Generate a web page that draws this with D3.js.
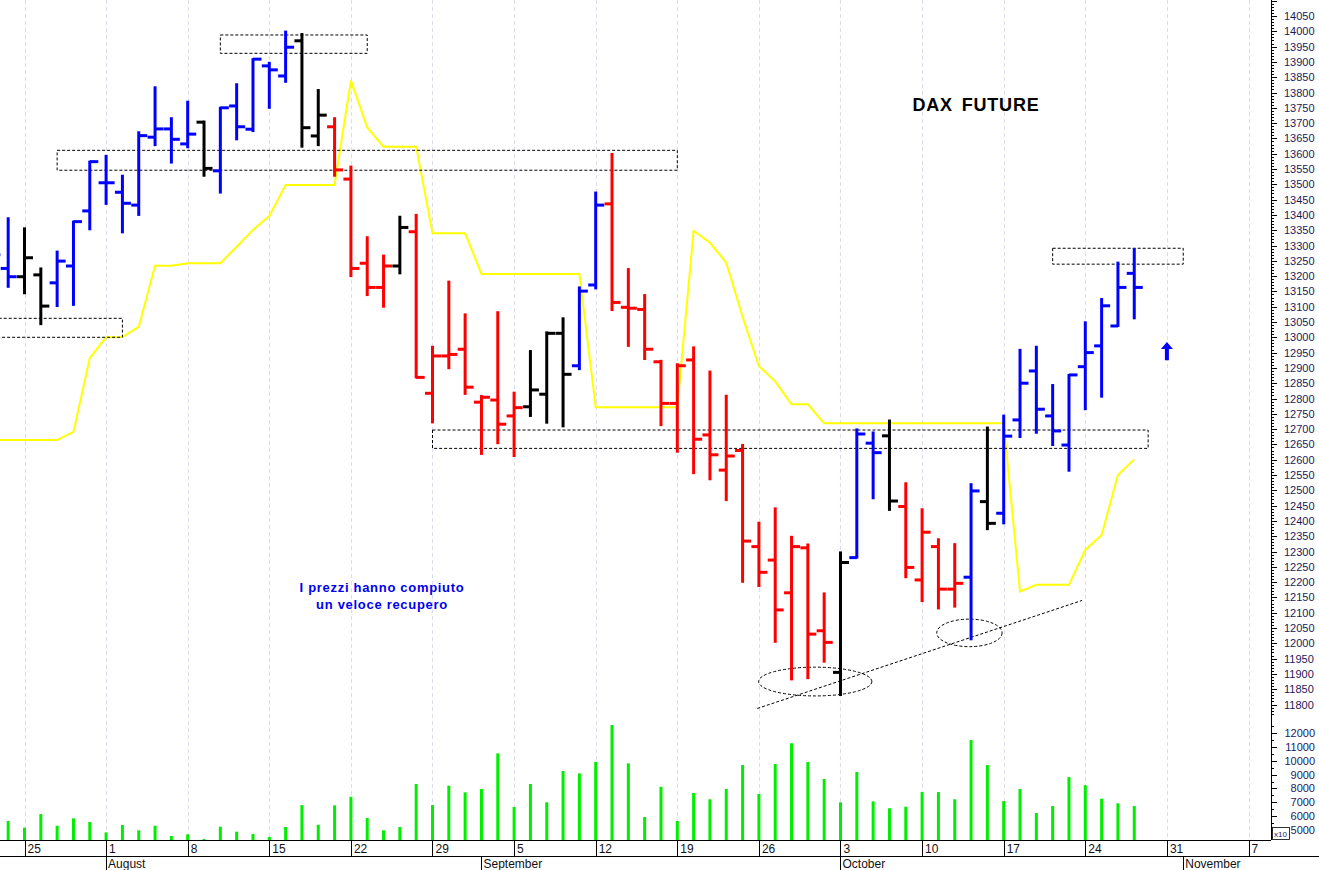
<!DOCTYPE html>
<html><head><meta charset="utf-8">
<script src="https://cdn.jsdelivr.net/npm/d3@7"></script>
<style>html,body{margin:0;padding:0;background:#fff;overflow:hidden}svg{display:block;font-family:Arial,"Liberation Sans",sans-serif}</style>
</head><body>
<svg id="c" width="1319" height="870"></svg>
<script>
// ---------------- DATA ----------------
const dates = ["2022-07-21","2022-07-22","2022-07-25","2022-07-26","2022-07-27","2022-07-28","2022-07-29",
"2022-08-01","2022-08-02","2022-08-03","2022-08-04","2022-08-05","2022-08-08","2022-08-09","2022-08-10","2022-08-11","2022-08-12",
"2022-08-15","2022-08-16","2022-08-17","2022-08-18","2022-08-19","2022-08-22","2022-08-23","2022-08-24","2022-08-25","2022-08-26",
"2022-08-29","2022-08-30","2022-08-31","2022-09-01","2022-09-02","2022-09-05","2022-09-06","2022-09-07","2022-09-08","2022-09-09",
"2022-09-12","2022-09-13","2022-09-14","2022-09-15","2022-09-16","2022-09-19","2022-09-20","2022-09-21","2022-09-22","2022-09-23",
"2022-09-26","2022-09-27","2022-09-28","2022-09-29","2022-09-30","2022-10-03","2022-10-04","2022-10-05","2022-10-06","2022-10-07",
"2022-10-10","2022-10-11","2022-10-12","2022-10-13","2022-10-14","2022-10-17","2022-10-18","2022-10-19","2022-10-20","2022-10-21",
"2022-10-24","2022-10-25","2022-10-26","2022-10-27"];
const open  = [13300,13225,13198,13204,13178,13233,13413,13505,13474,13432,13654,13681,13632,13703,13544,13756,13680,13887,13854,13969,13658,
13688,13517,13242,13163,13233,13345,12817,12939,12961,12788,12795,12743,12773,12814,13013,12907,13171,13436,13098,13091,12920,12784,12926,
12681,12566,12630,12316,12272,12165,12312,12041,11905,12280,12654,12678,12447,12207,12316,12177,12216,12463,12425,12730,12890,12743,12648,
12904,12972,13037,13209];
const high  = [13330,13389,13356,13225,13280,13378,13574,13593,13528,13670,13817,13716,13770,13705,13750,13827,13909,13897,13999,13991,13808,
13716,13558,13327,13267,13394,13400,12969,13182,13075,12808,13082,12819,12955,13016,13062,13163,13473,13599,13223,13138,12923,12912,12967,
12888,12809,12648,12394,12441,12348,12323,12163,12297,12699,12689,12728,12523,12438,12340,12324,12520,12705,12744,12959,12969,12844,12877,
13049,13125,13244,13288];
const low   = [13240,13165,13144,13043,13102,13106,13353,13436,13343,13400,13628,13571,13621,13528,13473,13647,13674,13750,13835,13623,13628,
13528,13200,13138,13100,13209,12869,12722,12899,12815,12619,12654,12612,12743,12721,12709,12896,13160,13089,12972,12929,12713,12626,12556,
12536,12468,12201,12187,12005,11882,11886,11940,11831,12280,12474,12436,12216,12138,12114,12120,12013,12373,12392,12674,12688,12648,12564,
12765,12806,13037,13062];
const close = [13270,13198,13260,13102,13249,13378,13574,13505,13438,13659,13681,13647,13664,13552,13750,13688,13909,13874,13948,13685,13726,
13547,13225,13163,13233,13359,12869,12939,12944,12837,12804,12716,12770,12828,13013,12879,13151,13432,13114,13095,12961,12784,12907,12667,
12616,12612,12334,12232,12109,12316,12030,12003,12264,12684,12623,12465,12248,12363,12177,12196,12498,12392,12677,12850,12765,12694,12877,
12950,13103,13163,13163];
// bar colour code: b = blue, r = red, k = black
const barColor = ["b","b","k","k","b","b","b","b","b","b","b","b","b","k","b","b","b","b","b","k","k",
"r","r","r","r","k","r","r","r","r","r","r","r","k","k","k","b","b",
"r","r","r","r","r","r","r","r","r","r","r","r","r","r",
"k","b","b","k","r","r","r","r","b","k",
"b","b","b","b","b","b","b","b","b"];
const volume = [null,5650,5170,6150,5310,5840,5580,4830,5360,4980,5310,4570,4690,4350,5240,4880,4710,4500,5220,6800,5380,
6780,7400,5870,4980,5220,8320,6800,8200,7720,7960,10530,6660,8320,7000,9260,9090,9910,12580,9810,5940,
8120,5650,7670,7220,7960,9690,7600,9760,11260,9910,8680,7000,9190,7070,6570,6680,7740,7740,7220,11490,
9690,7090,7960,6230,6730,8820,8230,7260,6930,6730];
const stopLine = [12664,12664,12664,12664,12664,12691,12932,13000,13001,13034,13234,13234,13242,13242,13242,13296,13351,13396,13498,13498,13498,
13498,13839,13686,13623,13623,13623,13340,13340,13340,13207,13207,13207,13207,13207,13207,13207,12771,12771,12771,12771,12771,12771,13348,
13309,13244,13067,12906,12856,12781,12781,12719,12719,12719,12719,12719,12719,12719,12719,12719,12719,12719,12719,12169,12191,12191,12191,
12305,12354,12550,12601];
const priceTicks = d3.range(11800, 14051, 50);
const volumeTicks = d3.range(5000, 12001, 1000);
const monthLabels = ["August","September","October","November"];
// annotations (positions in trading days from 21 Jul, prices in points)
const boxes = [{d0:-0.5,d1:8,p0:13000,p1:13062},{d0:4,d1:42,p0:13546,p1:13611},{d0:14,d1:23,p0:13928,p1:13988},
               {d0:27,d1:70.85,p0:12637,p1:12697},{d0:65,d1:73,p0:13239,p1:13291}];
const ellipses = [{d:50.45,p:11875,rd:3.47,rp:47},{d:59.9,p:12034,rd:2.0,rp:45}];
const trend = [{d:46.9,p:11787},{d:66.8,p:12140}];
const arrow = {d:72,p0:12925,p1:12985};
const title = "DAX FUTURE";
const note = ["I prezzi hanno compiuto","un veloce recupero"];

// ---------------- CHART ----------------
const svg = d3.select("#c");
const W = 1319, axisX = 1271;
const cal = d3.timeDay.range(new Date(2022,6,21), new Date(2022,10,12)).filter(d => d.getDay()!==0 && d.getDay()!==6);
const fmt = d3.timeFormat("%Y-%m-%d");
const calIdx = new Map(cal.map((d,i)=>[fmt(d), i]));
const x = d3.scaleLinear().domain([2, 77]).range([24.5, 1248.5]);
const y = d3.scaleLinear().domain([11800, 14050]).range([704.5, 16]);
const yv = d3.scaleLinear().domain([4280, 12000]).range([840, 733]);
const pxPerDay = x(1)-x(0), pxPerPt = y(0)-y(1);
const colMap = {b:"#0000ff", r:"#ff0000", k:"#000000"};

const plot = svg.append("g");
// grid at mondays
const mondays = cal.map((d,i)=>({d,i})).filter(o=>o.d.getDay()===1);
plot.selectAll("line.grid").data(mondays).join("line")
  .attr("x1",o=>Math.round(x(o.i))+0.5).attr("x2",o=>Math.round(x(o.i))+0.5).attr("y1",0).attr("y2",840)
  .attr("stroke","#dcdcf0").attr("stroke-width",1).attr("stroke-dasharray","4,3");

// volume bars
const vdata = dates.map((s,i)=>({i:calIdx.get(s), v:volume[i]})).filter(o=>o.v!=null);
plot.selectAll("line.vol").data(vdata).join("line")
  .attr("x1",o=>x(o.i)).attr("x2",o=>x(o.i)).attr("y1",o=>yv(o.v)).attr("y2",yv(4280))
  .attr("stroke","#00ee00").attr("stroke-width",3);

// stop line (yellow)
const sdata = dates.map((s,i)=>({i:calIdx.get(s), p:stopLine[i]}));
plot.append("path").datum(sdata)
  .attr("d", d3.line().x(o=>x(o.i)).y(o=>y(o.p)))
  .attr("fill","none").attr("stroke","#ffff00").attr("stroke-width",2);

// boxes
plot.selectAll("rect.box").data(boxes).join("rect")
  .attr("x",b=>x(b.d0)).attr("width",b=>x(b.d1)-x(b.d0))
  .attr("y",b=>y(b.p1)).attr("height",b=>y(b.p0)-y(b.p1))
  .attr("fill","none").attr("stroke","#000").attr("stroke-width",1).attr("stroke-dasharray","3,2");
plot.selectAll("ellipse.el").data(ellipses).join("ellipse")
  .attr("cx",e=>x(e.d)).attr("cy",e=>y(e.p)).attr("rx",e=>e.rd*pxPerDay).attr("ry",e=>e.rp*pxPerPt)
  .attr("fill","none").attr("stroke","#000").attr("stroke-width",1).attr("stroke-dasharray","3,2");
plot.append("line").attr("x1",x(trend[0].d)).attr("y1",y(trend[0].p)).attr("x2",x(trend[1].d)).attr("y2",y(trend[1].p))
  .attr("stroke","#000").attr("stroke-width",1).attr("stroke-dasharray","3,2");

// OHLC bars
const bars = dates.map((s,i)=>({i:calIdx.get(s),o:open[i],h:high[i],l:low[i],c:close[i],col:colMap[barColor[i]]}));
const bg = plot.selectAll("g.bar").data(bars).join("g");
bg.append("line").attr("x1",b=>x(b.i)).attr("x2",b=>x(b.i)).attr("y1",b=>y(b.h)-1).attr("y2",b=>y(b.l)+1)
  .attr("stroke",b=>b.col).attr("stroke-width",3);
bg.append("line").attr("x1",b=>x(b.i)-7.5).attr("x2",b=>x(b.i)).attr("y1",b=>y(b.o)).attr("y2",b=>y(b.o))
  .attr("stroke",b=>b.col).attr("stroke-width",3);
bg.append("line").attr("x1",b=>x(b.i)).attr("x2",b=>x(b.i)+8.5).attr("y1",b=>y(b.c)).attr("y2",b=>y(b.c))
  .attr("stroke",b=>b.col).attr("stroke-width",3);

// arrow
const ax = x(arrow.d), ay0 = y(arrow.p0), ay1 = y(arrow.p1);
svg.append("path").attr("d",`M${ax-2},${ay0}L${ax-2},${ay1+7}L${ax-6},${ay1+7}L${ax},${ay1}L${ax+6},${ay1+7}L${ax+2},${ay1+7}L${ax+2},${ay0}Z`)
  .attr("fill","#0000ff");

// texts
svg.append("text").attr("x",976).attr("y",111).attr("text-anchor","middle")
  .attr("font-size",18).attr("font-weight","bold").attr("fill","#000").attr("letter-spacing",0.8).attr("word-spacing",3).text(title);
svg.selectAll("text.note").data(note).join("text").attr("x",382).attr("y",(d,k)=>592+k*17).attr("text-anchor","middle")
  .attr("font-size",13).attr("font-weight","bold").attr("letter-spacing",0.7).attr("fill","#0000ee").text(d=>d);

// right axis
const ax1 = svg.append("g");
ax1.append("line").attr("x1",axisX+0.5).attr("x2",axisX+0.5).attr("y1",0).attr("y2",840).attr("stroke","#000");
const minorP = d3.range(11760, 14101, 10).filter(v=>y(v)>=0 && y(v)<=714);
ax1.selectAll("line.mp").data(minorP).join("line").attr("x1",axisX).attr("x2",v=>axisX+(v%50===0?6:3))
  .attr("y1",v=>Math.round(y(v))+0.5).attr("y2",v=>Math.round(y(v))+0.5).attr("stroke","#000");
ax1.selectAll("text.pt").data(priceTicks).join("text").attr("x",1284).attr("y",v=>y(v)+4)
  .attr("font-size",11).attr("fill","#1a1a5a").text(v=>v);
const minorV = d3.range(4500, 12501, 500).filter(v=>yv(v)>=722 && yv(v)<=838);
ax1.selectAll("line.mv").data(minorV).join("line").attr("x1",axisX).attr("x2",v=>axisX+(v%1000===0?6:3))
  .attr("y1",v=>Math.round(yv(v))+0.5).attr("y2",v=>Math.round(yv(v))+0.5).attr("stroke","#000");
ax1.selectAll("text.vt").data(volumeTicks).join("text").attr("x",1315).attr("y",v=>yv(v)+4).attr("text-anchor","end")
  .attr("font-size",11).attr("fill","#1a1a5a").text(v=>v);
ax1.append("rect").attr("x",1272.5).attr("y",827.5).attr("width",17).attr("height",12).attr("fill","#fff").attr("stroke","#000").attr("stroke-width",0.8);
ax1.append("text").attr("x",1274).attr("y",837).attr("font-size",8).attr("fill","#1a1a5a").text("x10");

// bottom axis
const bx = svg.append("g");
bx.append("line").attr("x1",0).attr("x2",axisX).attr("y1",840.5).attr("y2",840.5).attr("stroke","#000");
bx.append("line").attr("x1",0).attr("x2",W).attr("y1",856.5).attr("y2",856.5).attr("stroke","#000");
bx.selectAll("line.wk").data(mondays).join("line").attr("x1",o=>Math.round(x(o.i))+0.5).attr("x2",o=>Math.round(x(o.i))+0.5)
  .attr("y1",840).attr("y2",856).attr("stroke","#000");
bx.selectAll("text.wk").data(mondays).join("text").attr("x",o=>x(o.i)+3).attr("y",853)
  .attr("font-size",12).attr("fill","#111").text(o=>o.d.getDate());
const monthStarts = cal.map((d,i)=>({d,i})).filter((o,k,a)=>k>0 && o.d.getMonth()!==a[k-1].d.getMonth());
bx.selectAll("line.mo").data(monthStarts).join("line").attr("x1",o=>Math.round(x(o.i))+0.5).attr("x2",o=>Math.round(x(o.i))+0.5)
  .attr("y1",856).attr("y2",870).attr("stroke","#000");
bx.selectAll("text.mo").data(monthStarts).join("text").attr("x",o=>x(o.i)+2).attr("y",868)
  .attr("font-size",12).attr("fill","#111").text((o,k)=>monthLabels[k]);
</script>
</body></html>
